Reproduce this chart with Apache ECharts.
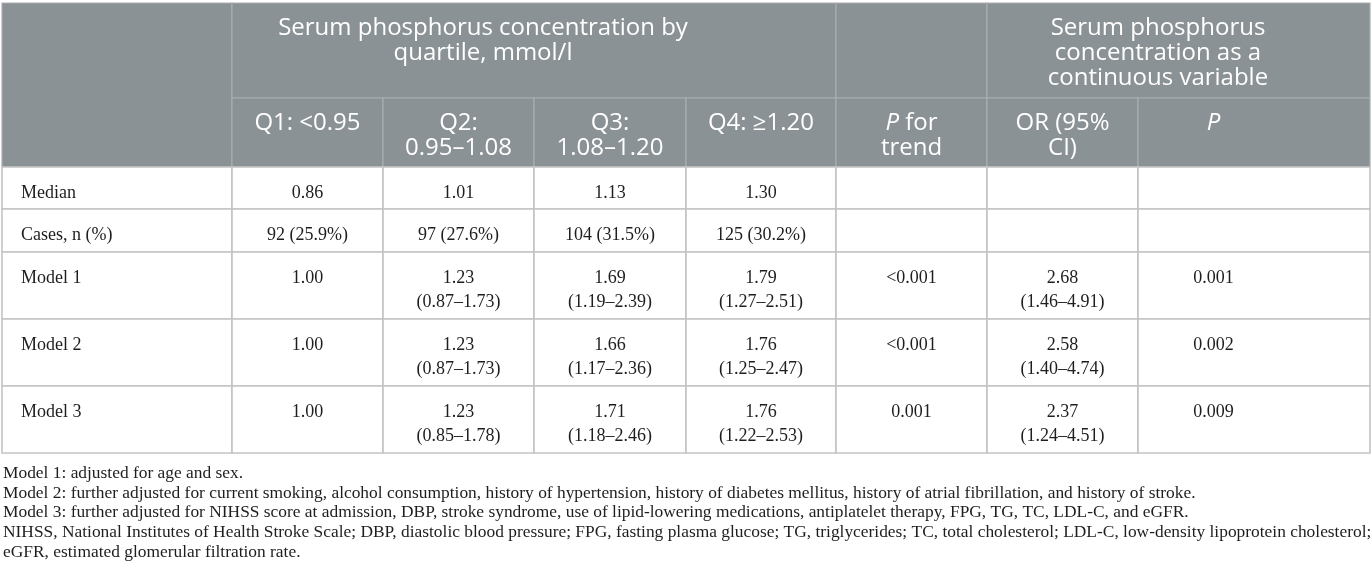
<!DOCTYPE html>
<html lang="en">
<head>
    <meta charset="UTF-8">
    <title>Serum phosphorus table</title>
    <style>
        html, body { margin: 0; padding: 0; background: #fff; }
        #main { width: 1372px; height: 583px; }
    </style>
</head>
<body>
<div id="main"></div>
<script src="https://cdn.jsdelivr.net/npm/echarts@6/dist/echarts.min.js"></script>
<script>
    // table content
    var quartileGroup = 'Serum phosphorus concentration by\nquartile, mmol/l';
    var continuousGroup = 'Serum phosphorus\nconcentration as a\ncontinuous variable';
    var quartiles = ['Q1: <0.95', 'Q2:\n0.95\u20131.08', 'Q3:\n1.08\u20131.20', 'Q4: \u22651.20'];
    var trendHeader = '{i|P} for\ntrend';
    var orHeader = 'OR (95%\nCI)';
    var pHeader = '{i|P}';

    var rowLabels = ['Median', 'Cases, n (%)', 'Model 1', 'Model 2', 'Model 3'];
    var medianValues = ['0.86', '1.01', '1.13', '1.30'];
    var caseValues = ['92 (25.9%)', '97 (27.6%)', '104 (31.5%)', '125 (30.2%)'];
    var model1OR = ['1.00', '1.23\n(0.87\u20131.73)', '1.69\n(1.19\u20132.39)', '1.79\n(1.27\u20132.51)'];
    var model2OR = ['1.00', '1.23\n(0.87\u20131.73)', '1.66\n(1.17\u20132.36)', '1.76\n(1.25\u20132.47)'];
    var model3OR = ['1.00', '1.23\n(0.85\u20131.78)', '1.71\n(1.18\u20132.46)', '1.76\n(1.22\u20132.53)'];
    var pTrend = ['<0.001', '<0.001', '0.001'];
    var continuousOR = ['2.68\n(1.46\u20134.91)', '2.58\n(1.40\u20134.74)', '2.37\n(1.24\u20134.51)'];
    var continuousP = ['0.001', '0.002', '0.009'];

    var footnotes = [
        'Model 1: adjusted for age and sex.',
        'Model 2: further adjusted for current smoking, alcohol consumption, history of hypertension, history of diabetes mellitus, history of atrial fibrillation, and history of stroke.',
        'Model 3: further adjusted for NIHSS score at admission, DBP, stroke syndrome, use of lipid-lowering medications, antiplatelet therapy, FPG, TG, TC, LDL-C, and eGFR.',
        'NIHSS, National Institutes of Health Stroke Scale; DBP, diastolic blood pressure; FPG, fasting plasma glucose; TG, triglycerides; TC, total cholesterol; LDL-C, low-density lipoprotein cholesterol;',
        'eGFR, estimated glomerular filtration rate.'
    ];

    // layout (pixels of the 1372x583 canvas)
    var colEdges = [2, 232, 383, 534, 686, 836, 987, 1138, 1370];
    var rowEdges = [3, 98, 167, 209, 252, 319, 386, 453];
    var groupCenters = [483, 1158];
    var headFill = '#8b9295';
    var headLine = '#a9aeb0';
    var bodyLine = '#c3c3c3';
    var sansFont = '"Open Sans", "Noto Sans", sans-serif';
    var serifFont = '"Liberation Serif", "DejaVu Serif", serif';

    // build cell list
    var cells = [];
    function addCell(c0, c1, r0, r1, text, cx) {
        cells.push({c0: c0, c1: c1, r0: r0, r1: r1, text: text, cx: cx});
    }
    addCell(0, 1, 0, 2, '');
    addCell(1, 5, 0, 1, quartileGroup, groupCenters[0]);
    addCell(5, 6, 0, 1, '');
    addCell(6, 8, 0, 1, continuousGroup, groupCenters[1]);
    quartiles.forEach(function (q, i) { addCell(1 + i, 2 + i, 1, 2, q); });
    addCell(5, 6, 1, 2, trendHeader);
    addCell(6, 7, 1, 2, orHeader);
    addCell(7, 8, 1, 2, pHeader, colEdges[7] + 75.5);

    var bodyRows = [medianValues, caseValues, model1OR, model2OR, model3OR];
    bodyRows.forEach(function (vals, r) {
        var row = r + 2;
        addCell(0, 1, row, row + 1, rowLabels[r], 'left');
        vals.forEach(function (v, i) { addCell(1 + i, 2 + i, row, row + 1, v); });
        var m = r - 2;
        addCell(5, 6, row, row + 1, m >= 0 ? pTrend[m] : '');
        addCell(6, 7, row, row + 1, m >= 0 ? continuousOR[m] : '');
        addCell(7, 8, row, row + 1, m >= 0 ? continuousP[m] : '', colEdges[7] + 75.5);
    });

    var chartDom = document.getElementById('main');
    var myChart = echarts.init(chartDom, null, {renderer: 'canvas'});

    function renderCell(params, api) {
        var cell = cells[params.dataIndex];
        var p0 = api.coord([colEdges[cell.c0], rowEdges[cell.r0]]);
        var p1 = api.coord([colEdges[cell.c1], rowEdges[cell.r1]]);
        var head = cell.r0 < 2;
        var x, align;
        if (cell.cx === 'left') {
            x = p0[0] + 19;
            align = 'left';
        } else if (typeof cell.cx === 'number') {
            x = api.coord([cell.cx, 0])[0];
            align = 'center';
        } else {
            x = (p0[0] + p1[0]) / 2;
            align = 'center';
        }
        var fontSize = head ? 24 : 18;
        var lineH = head ? 25 : 24;
        var font = head ? sansFont : serifFont;
        var color = head ? '#ffffff' : '#1e1e1e';
        return {
            type: 'group',
            children: [{
                type: 'rect',
                shape: {x: p0[0], y: p0[1], width: p1[0] - p0[0], height: p1[1] - p0[1]},
                style: {
                    fill: head ? headFill : '#ffffff',
                    stroke: head ? headLine : bodyLine,
                    lineWidth: head ? 1.2 : 1.6
                }
            }, {
                type: 'text',
                z2: 10,
                style: {
                    x: x,
                    y: p0[1] + (head ? 13 : 14),
                    text: cell.text,
                    align: align,
                    verticalAlign: 'top',
                    fill: color,
                    fontFamily: font,
                    fontSize: fontSize,
                    lineHeight: lineH,
                    rich: {
                        i: {
                            fontStyle: 'italic',
                            fontFamily: font,
                            fontSize: fontSize,
                            lineHeight: lineH,
                            color: color
                        }
                    }
                }
            }]
        };
    }

    var noteGraphics = footnotes.map(function (t, i) {
        return {
            type: 'text',
            left: 3,
            top: 465 + i * 19.7,
            style: {
                text: t,
                fill: '#1e1e1e',
                font: '17.4px "Liberation Serif", serif'
            }
        };
    });

    var option = {
        animation: false,
        grid: {left: 0, right: 0, top: 0, bottom: 0},
        xAxis: {type: 'value', min: 0, max: 1372, show: false},
        yAxis: {type: 'value', min: 0, max: 583, inverse: true, show: false},
        series: [{
            type: 'custom',
            renderItem: renderCell,
            data: cells.map(function (c) { return [colEdges[c.c0], rowEdges[c.r0]]; }),
            silent: true
        }],
        graphic: noteGraphics
    };

    myChart.setOption(option);
</script>
</body>
</html>
